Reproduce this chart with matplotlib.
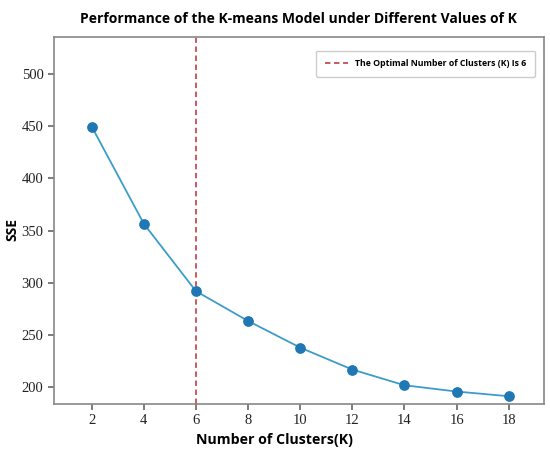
import matplotlib
matplotlib.use("Agg")
import matplotlib.pyplot as plt

k_values = [2, 4, 6, 8, 10, 12, 14, 16, 18]
sse_values = [449.5, 356.5, 292, 263.5, 238, 217, 202, 196, 191.5]
best_k = 6
x_ticks = [2, 4, 6, 8, 10, 12, 14, 16, 18]
y_ticks = [200, 250, 300, 350, 400, 450, 500]

fig = plt.figure(figsize=(5.5, 4.53), dpi=100)
ax = fig.add_axes([0.098, 0.108, 0.891, 0.810])

ax.plot(k_values, sse_values, color="#3d9cc9", linewidth=1.3, zorder=2)
ax.scatter(k_values, sse_values, s=45, color="#1f77b4", zorder=3)
ax.axvline(best_k, color="#c44e52", linestyle="--", linewidth=1.3,
           dashes=(3, 2), label="The Optimal Number of Clusters (K) Is 6", zorder=1)

ax.set_xlim(0.55, 19.35)
ax.set_ylim(184, 535)
ax.set_xticks(x_ticks)
ax.set_yticks(y_ticks)

for s in ax.spines.values():
    s.set_color("#888888")
    s.set_linewidth(1.2)
ax.tick_params(direction="out", length=4, width=1.2, color="#666666",
               labelsize=10.5, labelcolor="#222222")
for lbl in ax.get_xticklabels() + ax.get_yticklabels():
    lbl.set_fontfamily("Liberation Serif")

ax.set_title("Performance of the K-means Model under Different Values of K",
             fontsize=10, fontweight="bold", family="Open Sans", pad=10)
ax.set_xlabel("Number of Clusters(K)", fontsize=10.2, fontweight="bold",
              family="Open Sans")
ax.xaxis.set_label_coords(0.451, -0.079)
ax.set_ylabel("SSE", fontsize=10, fontweight="bold", family="Open Sans")
ax.yaxis.set_label_coords(-0.071, 0.475)

leg = ax.legend(loc="upper right", prop={"family": "Open Sans", "weight": "bold", "size": 6.3},
                fancybox=True, framealpha=1, edgecolor="#cccccc",
                handlelength=2.6, borderpad=1.0, bbox_to_anchor=(0.99, 0.975))

fig.savefig("out.png", dpi=100)
